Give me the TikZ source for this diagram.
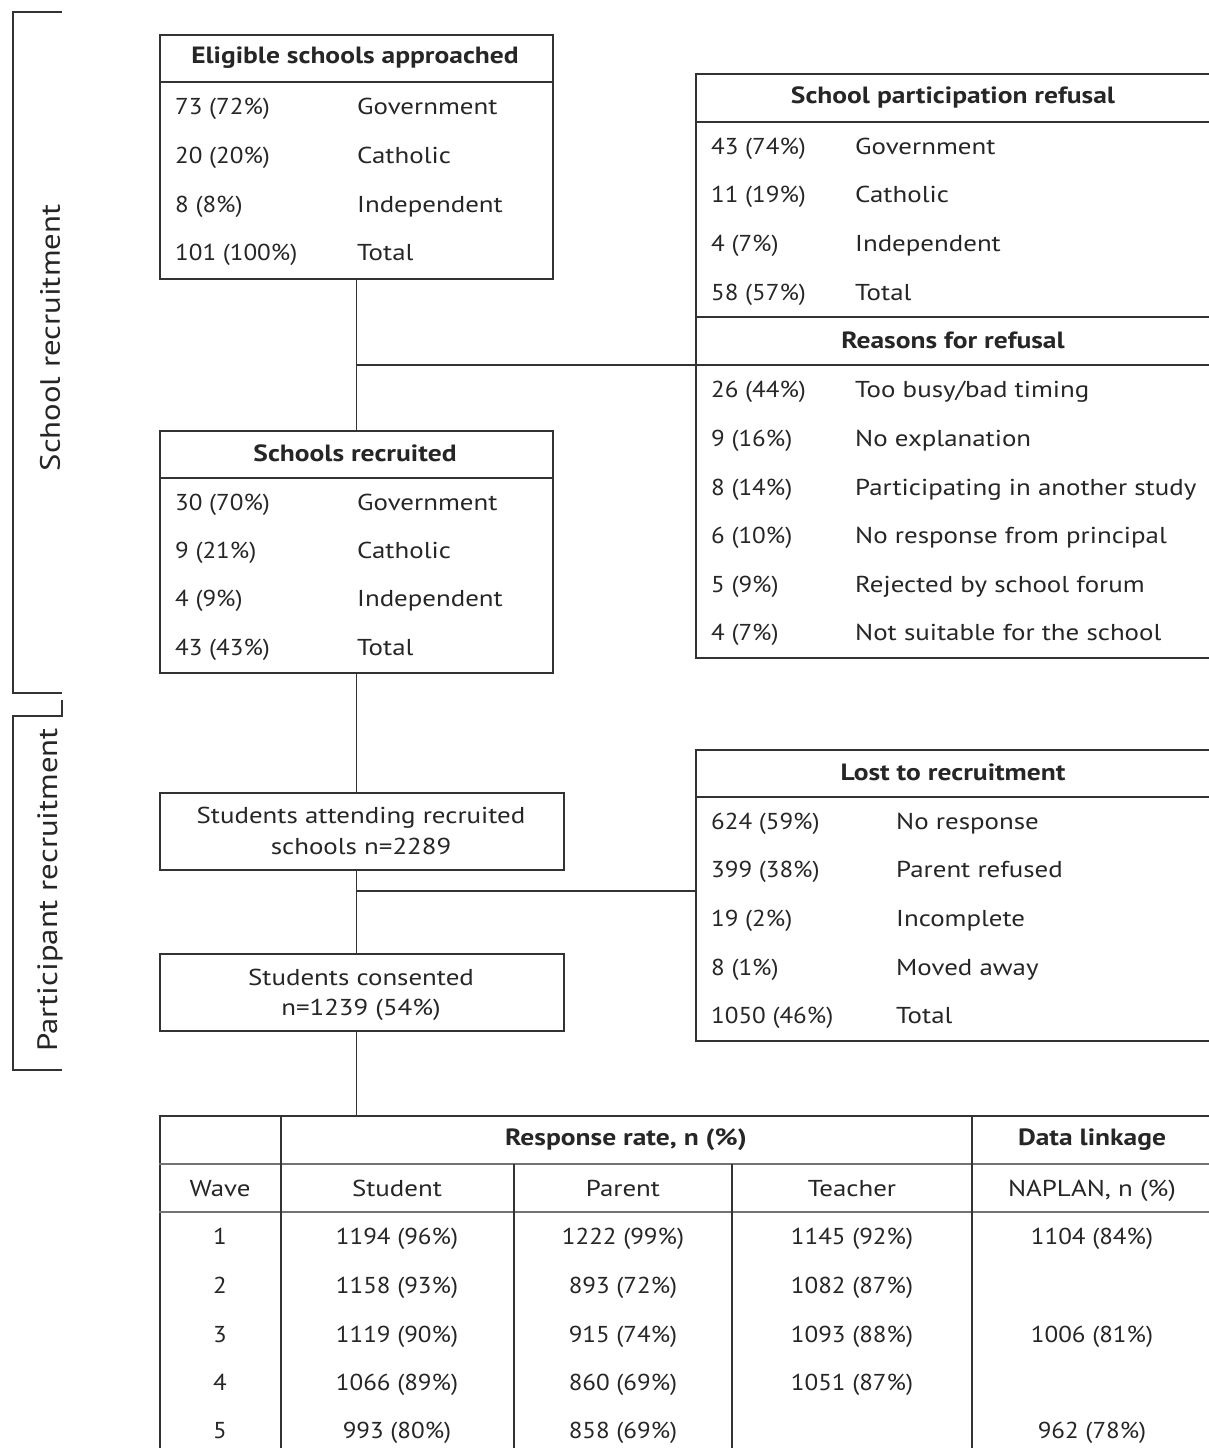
\documentclass[tikz,border=0pt]{standalone}
\usepackage{fontspec}
\setmainfont{PT Sans}[FakeStretch=1.17]
\newfontfamily\numfont{PT Sans}[FakeStretch=1.09]
\begin{document}
\begin{tikzpicture}[x=1pt,y=-1pt,
  line/.style={draw=black!80, line width=1.6pt},
  grayline/.style={draw=black!55, line width=2.6pt},
  box/.style={line, rectangle, inner sep=0pt, anchor=north west},
  txt/.style={font=\fontsize{23}{28}\selectfont, inner sep=0pt, text=black!85},
  ntxt/.style={font=\numfont\fontsize{23}{28}\selectfont, inner sep=0pt, text=black!85},
  hd/.style={inner sep=0pt, text=black!85, font=\fontsize{23.5}{28}\selectfont\bfseries},
  lt/.style={txt, anchor=base west},
  nt/.style={ntxt, anchor=base west},
  ct/.style={txt, anchor=base},
  nct/.style={ntxt, anchor=base},
  side/.style={inner sep=0pt, text=black!85, font=\fontsize{28}{34}\selectfont, rotate=90},
]
\useasboundingbox (0,0) rectangle (1208,1448);
\fill[white] (0,0) rectangle (1208,1448);

% side brackets
\draw[line] (62,12) -- (13,12) -- (13,693) -- (62,693);
\draw[line] (62,700) -- (62,716) -- (13,716) -- (13,1070) -- (62,1070);
\node[side] (lab1) at (50,338) {School recruitment};
\node[side] (lab2) at (50,890) {Participant recruitment};

% box 1
\node[box, minimum width=393pt, minimum height=244pt] (b1) at (159,34) {};
\draw[line] (159,82) -- (552,82);
\node[hd] (b1h) at (355,58) {Eligible schools approached};
\foreach \y/\a/\b in {106/73 (72\%)/Government, 155/20 (20\%)/Catholic, 204/8 (8\%)/Independent, 252/101 (100\%)/Total}{
  \node[nt] (b1a\y) at (175,\y+8) {\a};
  \node[lt] (b1b\y) at (357,\y+8) {\b};
}

% box 2
\node[box, minimum width=393pt, minimum height=242pt] (b2) at (159,430) {};
\draw[line] (159,478) -- (552,478);
\node[hd] (b2h) at (355,453) {Schools recruited};
\foreach \y/\a/\b in {502/30 (70\%)/Government, 550/9 (21\%)/Catholic, 598/4 (9\%)/Independent, 647/43 (43\%)/Total}{
  \node[nt] (b2a\y) at (175,\y+8) {\a};
  \node[lt] (b2b\y) at (357,\y+8) {\b};
}

% box 3 and 4
\node[box, minimum width=404pt, minimum height=77pt] (b3) at (159,792) {};
\node[ct] (b3t1) at (361,823) {Students attending recruited};
\node[ct] (b3t2) at (361,854) {schools n=2289};
\node[box, minimum width=404pt, minimum height=77pt] (b4) at (159,953) {};
\node[ct] (b4t1) at (361,985) {Students consented};
\node[ct] (b4t2) at (361,1015) {n=1239 (54\%)};

% right box A
\node[box, minimum width=540pt, minimum height=584pt] (ra) at (695,73) {};
\draw[line] (695,122) -- (1215,122);
\draw[line] (695,317) -- (1215,317);
\draw[line] (695,365) -- (1215,365);
\node[hd] (rah) at (953,97) {School participation refusal};
\node[hd] (rah2) at (953,340) {Reasons for refusal};
\foreach \y/\a/\b in {146/43 (74\%)/Government, 194/11 (19\%)/Catholic, 243/4 (7\%)/Independent, 292/58 (57\%)/Total,
  389/26 (44\%)/Too busy\slash bad timing, 438/9 (16\%)/No explanation, 487/8 (14\%)/Participating in another study,
  535/6 (10\%)/No response from principal, 584/5 (9\%)/Rejected by school forum, 632/4 (7\%)/Not suitable for the school}{
  \node[nt] (raa\y) at (711,\y+8) {\a};
  \node[lt] (rab\y) at (855,\y+8) {\b};
}

% right box B
\node[box, minimum width=540pt, minimum height=291pt] (rb) at (695,749) {};
\draw[line] (695,797) -- (1215,797);
\node[hd] (rbh) at (953,772) {Lost to recruitment};
\foreach \y/\a/\b in {821/624 (59\%)/No response, 869/399 (38\%)/Parent refused, 918/19 (2\%)/Incomplete, 967/8 (1\%)/Moved away, 1015/1050 (46\%)/Total}{
  \node[nt] (rba\y) at (711,\y+8) {\a};
  \node[lt] (rbb\y) at (896,\y+8) {\b};
}

% table
\node[box, minimum width=1070pt, minimum height=420pt] (tbl) at (159,1115) {};
\draw[grayline] (159,1164) -- (1215,1164);
\draw[grayline] (159,1212) -- (1215,1212);
\draw[line] (281,1115) -- (281,1460);
\draw[line] (514,1164) -- (514,1460);
\draw[line] (732,1164) -- (732,1460);
\draw[line] (972,1115) -- (972,1460);
\node[hd] (th1) at (626,1140) {Response rate, n (\%)};
\node[hd] (th2) at (1092,1140) {Data linkage};
\foreach \x/\t in {220/Wave, 397/Student, 623/Parent, 852/Teacher, 1092/{NAPLAN, n (\%)}}{
  \node[ct] (tc\x) at (\x,1196) {\t};
}
\foreach \y/\w/\s/\p/\q/\r in {1236/1/1194 (96\%)/1222 (99\%)/1145 (92\%)/1104 (84\%),
  1285/2/1158 (93\%)/893 (72\%)/1082 (87\%)/{},
  1334/3/1119 (90\%)/915 (74\%)/1093 (88\%)/1006 (81\%),
  1382/4/1066 (89\%)/860 (69\%)/1051 (87\%)/{},
  1430/5/993 (80\%)/858 (69\%)/{}/962 (78\%)}{
  \node[nct] (tw\y) at (220,\y+8) {\w};
  \node[nct] (ts\y) at (397,\y+8) {\s};
  \node[nct] (tp\y) at (623,\y+8) {\p};
  \node[nct] (tt\y) at (852,\y+8) {\q};
  \node[nct] (tn\y) at (1092,\y+8) {\r};
}

% connectors
\coordinate (j1) at (b1.south |- 0,365);
\coordinate (j2) at (b1.south |- 0,891);
\draw[line] (b1.south) -- (b2.north);
\draw[line] (j1) -- (j1 -| ra.west);
\draw[line] (b2.south) -- (b2.south |- b3.north);
\draw[line] (b2.south |- b3.south) -- (b2.south |- b4.north);
\draw[line] (j2) -- (j2 -| rb.west);
\draw[line] (b2.south |- b4.south) -- (b2.south |- tbl.north);
\end{tikzpicture}
\end{document}
